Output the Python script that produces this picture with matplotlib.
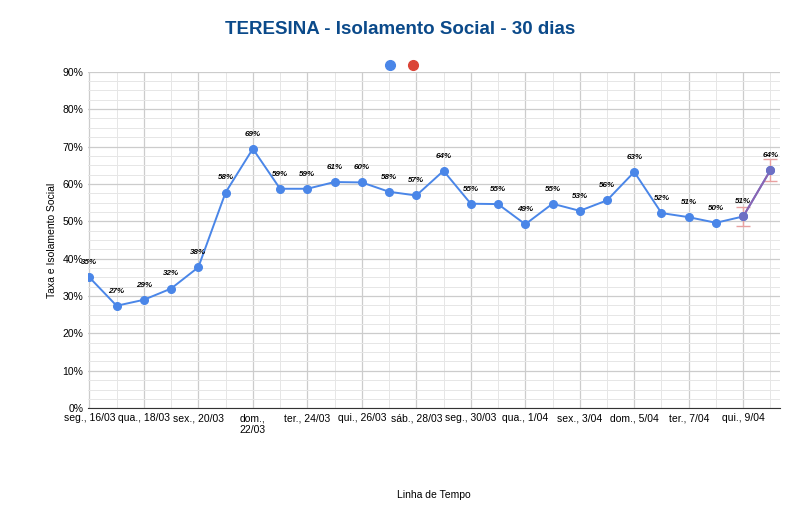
import matplotlib
matplotlib.use("Agg")
import matplotlib.pyplot as plt
from matplotlib.ticker import MultipleLocator, FuncFormatter

plt.rcParams["font.family"] = "Liberation Sans"

dates = ["seg., 16/03","ter., 17/03","qua., 18/03","qui., 19/03","sex., 20/03","sáb., 21/03",
         "dom.,\n22/03","seg., 23/03","ter., 24/03","qua., 25/03","qui., 26/03","sex., 27/03",
         "sáb., 28/03","dom., 29/03","seg., 30/03","ter., 31/03","qua., 1/04","qui., 2/04",
         "sex., 3/04","sáb., 4/04","dom., 5/04","seg., 6/04","ter., 7/04","qua., 8/04",
         "qui., 9/04","sex., 10/04"]
values = [35.0,27.4,29.0,32.0,37.7,57.7,69.4,58.7,58.7,60.5,60.4,57.9,56.9,63.5,54.7,54.6,
          49.2,54.7,52.8,55.6,63.2,52.2,51.1,49.6,51.3,63.7]
labels = [35,27,29,32,38,58,69,59,59,61,60,58,57,64,55,55,49,55,53,56,63,52,51,50,51,64]
err_idx = [24, 25]
err = [2.5, 3.0]

blue = "#4a86e8"
fig = plt.figure(figsize=(8, 5.2), dpi=100)
ax = fig.add_axes([0.11, 0.215, 0.865, 0.647])
x = list(range(len(values)))
ax.plot(x, values, color=blue, lw=1.4, marker="o", ms=5.5, zorder=3)
ax.plot(x[24:], values[24:], color="#8e63b0", lw=1.4, zorder=4)
ax.plot(x[24:], values[24:], "o", color="#6d6fc4", ms=5.5, zorder=5)
ax.errorbar([x[i] for i in err_idx], [values[i] for i in err_idx], yerr=err, fmt="none",
            ecolor="#e8a0a0", elinewidth=1, capsize=5, zorder=2)
for xi, v, l in zip(x, values, labels):
    ax.text(xi, v + 3.0, f"{l}%", ha="center", va="bottom", fontsize=5.8,
            fontweight="bold", fontstyle="italic")

ax.set_xlim(-0.05, 25.35)
ax.set_ylim(0, 90)
ax.yaxis.set_major_locator(MultipleLocator(10))
ax.yaxis.set_minor_locator(MultipleLocator(2.5))
ax.yaxis.set_major_formatter(FuncFormatter(lambda v, p: f"{int(v)}%"))
ax.set_xticks(x[::2])
ax.set_xticklabels(dates[::2], fontsize=7.5)
ax.set_xticks(x, minor=True)
ax.tick_params(labelsize=7.5, length=0, which="both")
ax.grid(True, which="major", color="#cccccc", lw=0.9)
ax.grid(True, which="minor", color="#e6e6e6", lw=0.7)
ax.set_axisbelow(True)
for s in ["top", "right"]:
    ax.spines[s].set_visible(False)
ax.spines["left"].set_visible(False)
ax.spines["bottom"].set_color("#333333")
ax.set_ylabel("Taxa e Isolamento Social", fontsize=7.5)
ax.set_xlabel("Linha de Tempo", fontsize=7.5, labelpad=40)
fig.text(0.5, 0.935, "TERESINA - Isolamento Social - 30 dias", ha="center",
         fontsize=13.5, fontweight="bold", color="#0b4a8a")
fig.lines.append(plt.Line2D([0.487], [0.875], marker="o", ms=7, color=blue, transform=fig.transFigure))
fig.lines.append(plt.Line2D([0.516], [0.875], marker="o", ms=7, color="#db4437", transform=fig.transFigure))
fig.savefig("out.png")
